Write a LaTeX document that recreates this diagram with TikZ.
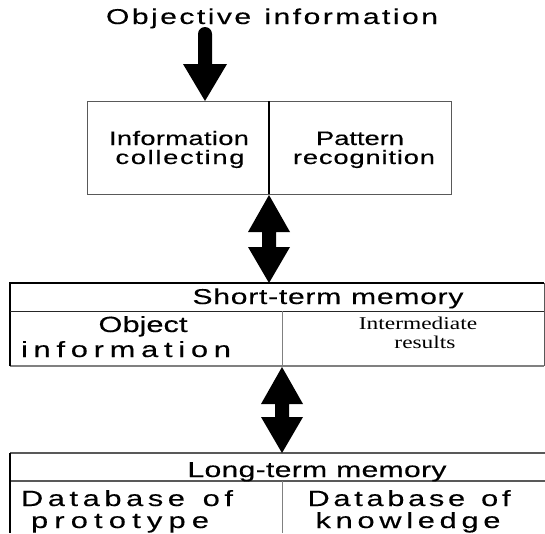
\documentclass[tikz,border=0pt]{standalone}
\usepackage{fontspec}
\usetikzlibrary{calc}
\newfontfamily\labfont[FakeStretch=1.4, FakeBold=0.3]{Liberation Sans}
\newfontfamily\serfont[FakeStretch=1.3]{Liberation Serif}
\definecolor{framegray}{gray}{0.35}
\definecolor{lightrule}{gray}{0.5}
% spread the letters of #2 evenly over a box of width #1
\makeatletter
\newcommand\spread[2]{\hbox to #1{\let\spr@gap\relax\@tfor\spr@tok:=#2\do{\spr@gap\spr@tok\let\spr@gap\hfil}}}
\makeatother
% two-headed block arrow between two tips on one vertical
\newcommand\dblarrow[2]{%
  \fill[arrowfill] let \p1=(#1), \p2=(#2) in
    (\x1,\y1) -- (\x1+21pt,\y1-37pt) -- (\x1+7pt,\y1-37pt) -- (\x1+7pt,\y2+36pt)
    -- (\x1+21pt,\y2+36pt) -- (\x1,\y2) -- (\x1-21pt,\y2+36pt) -- (\x1-7pt,\y2+36pt)
    -- (\x1-7pt,\y1-37pt) -- (\x1-21pt,\y1-37pt) -- cycle;}
\tikzset{
  cell/.style={inner sep=0pt, outer sep=0pt},
  lab/.style={anchor=base, inner sep=0pt, outer sep=0pt},
  big/.style={lab, font=\labfont\fontsize{21.5}{24}\selectfont},
  huge/.style={lab, font=\labfont\fontsize{22}{25}\selectfont},
  mid/.style={lab, font=\labfont\fontsize{19.5}{23}\selectfont},
  ser/.style={lab, font=\serfont\fontsize{18}{21}\selectfont},
  arrowfill/.style={fill=black},
  frame/.style={draw=framegray, line width=1pt},
  boldrule/.style={draw=black, line width=1.3pt},
  thinrule/.style={draw=lightrule, line width=0.9pt},
  shade/.style={draw=gray, line width=2.2pt},
}
\begin{document}
\begin{tikzpicture}[x=1pt, y=-1pt]
\useasboundingbox (0,0) rectangle (545,533);

% title
\node[big] (title) at (272,24) {\spread{332pt}{Objective~information}};

% processing box
\node[cell, minimum width=182pt, minimum height=93pt] (collect) at (178,147.5) {};
\node[cell, minimum width=182pt, minimum height=93pt] (pattern) at (360,147.5) {};
\draw[frame] (collect.north west) rectangle (pattern.south east);
\draw[draw=black, line width=2pt] (collect.north east) -- (collect.south east);
\node[mid] (coll1) at (179,145) {\spread{140pt}{Information}};
\node[mid] (coll2) at (180,164) {\spread{129pt}{collecting}};
\node[mid] (patt1) at (360,145) {\spread{88pt}{Pattern}};
\node[mid] (patt2) at (364,164) {\spread{142pt}{recognition}};

% short-term memory
\node[cell, minimum width=534pt, minimum height=28pt] (stm) at (277,297) {};
\node[cell, minimum width=272pt, minimum height=55pt] (stmL) at (146,338.5) {};
\node[cell, minimum width=262pt, minimum height=55pt] (stmR) at (413,338.5) {};
\draw[shade] (stmL.south west) -- (stmR.south east);
\draw[boldrule] (stmL.south west) -- (stm.north west) -- (stm.north east);
\draw[frame] (stm.north east) -- (stmR.south east);
\draw[draw=black!85, line width=1pt] (stm.south west) -- (stm.south east);
\draw[thinrule] (stmL.north east) -- (stmL.south east);
\node[big] (stmtext) at (328,304) {\spread{271pt}{Short-term~memory}};
\node[huge] (obj1) at (141,332) {\spread{85pt}{Object}};
\node[huge] (obj2) at (126,357) {\spread{210pt}{information}};
\node[ser] (int1) at (418,329) {Intermediate};
\node[ser] (int2) at (425,348) {results};

% long-term memory
\node[cell, minimum width=535pt, minimum height=28pt] (ltm) at (277.5,467) {};
\node[cell, minimum width=272pt, minimum height=52pt] (ltmL) at (146,507) {};
\node[cell, minimum width=263pt, minimum height=52pt] (ltmR) at (413.5,507) {};
\draw[draw=framegray, line width=1.4pt] (ltm.north west) -- (ltm.north east);
\draw[draw=framegray, line width=1.4pt] (ltm.south west) -- (ltm.south east);
\draw[boldrule] (ltm.north west) -- (ltmL.south west);
\draw[thinrule] (ltmL.north east) -- (ltmL.south east);
\node[big] (ltmtext) at (317,477) {\spread{259pt}{Long-term~memory}};
\node[huge] (db1) at (127,506) {\spread{212pt}{Database~of}};
\node[huge] (db2) at (120,528) {\spread{178pt}{prototype}};
\node[huge] (db3) at (409,506) {\spread{203pt}{Database~of}};
\node[huge] (db4) at (408,528) {\spread{185pt}{knowledge}};

% block arrows
\coordinate (infeed) at (205,27);
\coordinate (intip) at ($(collect.north west)+(118,0)$);
\fill[arrowfill] let \p1=(infeed), \p2=(intip) in
  (\x1-7pt,\y2+37pt) -- (\x1-7pt,\y1-7pt) arc[start angle=180, end angle=0, radius=7pt]
  -- (\x1+7pt,\y2+37pt) -- (\x1+22pt,\y2+37pt) -- (\x2,\y2) -- (\x1-22pt,\y2+37pt) -- cycle;
\dblarrow{$(collect.south east)+(0,1)$}{collect.south east |- stm.north}
\dblarrow{$(stmL.south east)+(0,1)$}{stmL.south east |- ltm.north}
\end{tikzpicture}
\end{document}
